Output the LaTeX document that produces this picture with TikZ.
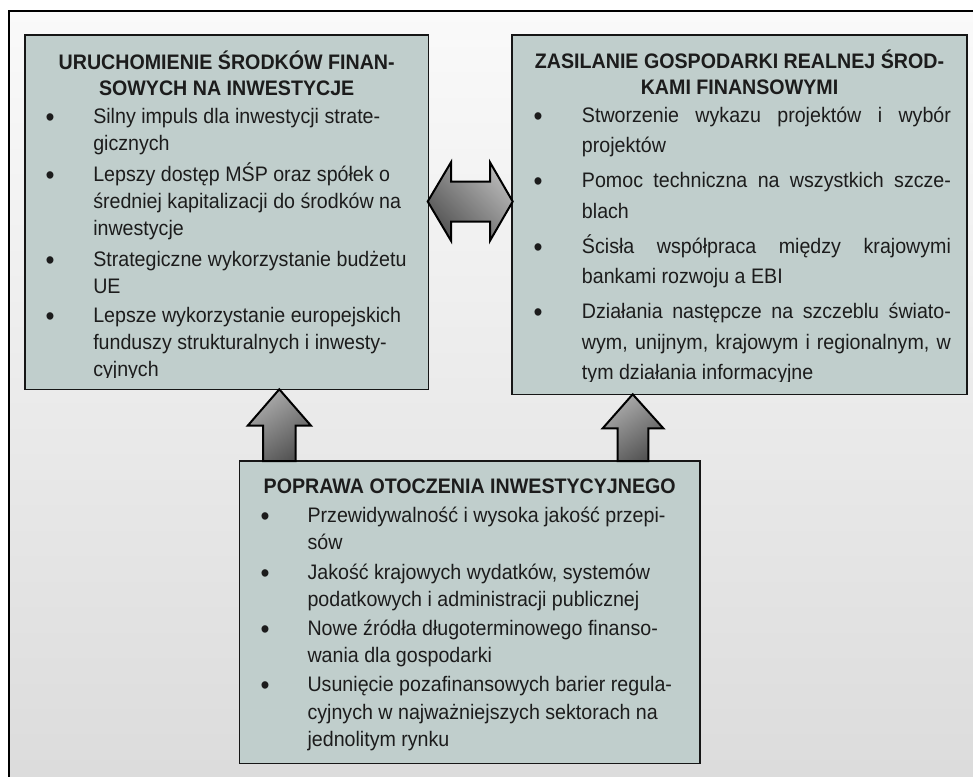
\documentclass[tikz,border=0pt]{standalone}
\usepackage{fontspec}
\setmainfont{Liberation Sans}[FakeStretch=0.935]
\definecolor{boxfill}{RGB}{192,206,204}
\definecolor{txtc}{RGB}{28,28,28}
\definecolor{bordc}{RGB}{22,22,22}
\newcommand{\natsp}{\spaceskip=\fontdimen2\font\relax\xspaceskip=\fontdimen2\font\relax}
\newcommand{\jline}[1]{{\spaceskip=0pt\relax\xspaceskip=0pt\relax\makebox[276.75pt][s]{#1}}}
\begin{document}
\begin{tikzpicture}[x=0.75pt,y=-0.75pt,
  panel/.style={draw=bordc, fill=boxfill, line width=1.1pt, anchor=north west, inner sep=0pt, outer sep=0pt},
  head/.style={anchor=base, inner sep=0pt, text=txtc, align=center, text width=330pt, font=\fontsize{15.75pt}{20pt}\selectfont\bfseries},
  itemL/.style={anchor=base west, inner sep=0pt, text=txtc, align=left, text width=260pt, font=\fontsize{15.75pt}{20.25pt}\selectfont},
  itemR/.style={anchor=base west, inner sep=0pt, text=txtc, align=left, text width=280pt, font=\fontsize{15.75pt}{22.875pt}\selectfont},
  itemB/.style={anchor=base west, inner sep=0pt, text=txtc, align=left, text width=300pt, font=\fontsize{15.75pt}{20.5pt}\selectfont},
  bul/.style={anchor=base, inner sep=0pt, text=txtc, font=\fontsize{20.5pt}{20pt}\selectfont},
  blockarrow/.style={draw=black, line width=1.5pt, line join=miter, shading=axis}
]
\useasboundingbox (0,0) rectangle (973,776);
% background frame
\begin{scope}
  \clip (0,0) rectangle (973,776);
  \shade[top color=white!98!black, bottom color=white!86!black] (9,11) rectangle (1000,790);
  \draw[line width=1.9pt, black] (9,11) rectangle (1000,790);
\end{scope}

% panels
\node[panel, minimum width=302.5pt, minimum height=265.7pt] (L) at (25,35) {};
\node[panel, minimum width=341.25pt, minimum height=269.5pt] (R) at (512,35) {};
\node[panel, minimum width=345.5pt, minimum height=226.7pt] (B) at (239.3,461) {};

% block arrows
\path[blockarrow, top color=white!72!black, bottom color=white!33!black, shading angle=-45]
  (427.7,201.5) -- (451,162.3) -- (451,181.7) -- (490,181.7) -- (490,162.3) -- (512.7,201.5)
  -- (490,240.7) -- (490,221.7) -- (451,221.7) -- (451,240.7) -- cycle;
\path[blockarrow, top color=white!68!black, bottom color=white!33!black, shading angle=35]
  (279.3,389.3) -- (311,425.7) -- (295.5,425.7) -- (295.5,461) -- (263.2,461) -- (263.2,425.7) -- (247.7,425.7) -- cycle;
\path[blockarrow, top color=white!68!black, bottom color=white!33!black, shading angle=35]
  (632.7,394.3) -- (663.3,428.3) -- (648.3,428.3) -- (648.3,461) -- (617.7,461) -- (617.7,428.3) -- (602.7,428.3) -- cycle;

% left panel text
\node[head] (hl) at (226.7,69) {\natsp URUCHOMIENIE ŚRODKÓW FINAN-\\SOWYCH NA INWESTYCJE};
\begin{scope}
  \clip (25,35) rectangle (428.3,377.5);
  \node[bul] (bl1) at (50,126.2) {•};
  \node[itemL] (l1) at (93,123) {\natsp Silny impuls dla inwestycji strate-\\gicznych};
  \node[bul] (bl2) at (50,184.7) {•};
  \node[itemL] (l2) at (93,181.5) {\natsp Lepszy dostęp MŚP oraz spółek o\\średniej kapitalizacji do środków na\\inwestycje};
  \node[bul] (bl3) at (50,269.7) {•};
  \node[itemL] (l3) at (93,266.5) {\natsp Strategiczne wykorzystanie budżetu\\UE};
  \node[bul] (bl4) at (50,325.2) {•};
  \node[itemL] (l4) at (93,322) {\natsp Lepsze wykorzystanie europejskich\\funduszy strukturalnych i inwesty-\\cyjnych};
\end{scope}

% right panel text
\node[head] (hr) at (739.5,68.3) {\natsp ZASILANIE GOSPODARKI REALNEJ ŚROD-\\KAMI FINANSOWYMI};
\begin{scope}
  \clip (512,35) rectangle (967,381);
  \node[bul] (br1) at (538,125.2) {•};
  \node[itemR] (r1) at (581.7,122) {\natsp\jline{Stworzenie wykazu projektów i wybór}\\projektów};
  \node[bul] (br2) at (538,190.7) {•};
  \node[itemR] (r2) at (581.7,187.5) {\natsp\jline{Pomoc techniczna na wszystkich szcze-}\\blach};
  \node[bul] (br3) at (538,256.2) {•};
  \node[itemR] (r3) at (581.7,253) {\natsp\jline{Ścisła współpraca między krajowymi}\\bankami rozwoju a EBI};
  \node[bul] (br4) at (538,321.7) {•};
  \node[itemR] (r4) at (581.7,318.5) {\natsp\jline{Działania następcze na szczeblu świato-}\\\jline{wym, unijnym, krajowym i regionalnym, w}\\tym działania informacyjne};
\end{scope}

% bottom panel text
\node[head] (hb) at (469.7,493.3) {\natsp POPRAWA OTOCZENIA INWESTYCYJNEGO};
\node[bul] (bb1) at (265,525.5) {•};
\node[itemB] (b1) at (307.3,522.3) {\natsp Przewidywalność i wysoka jakość przepi-\\sów};
\node[bul] (bb2) at (265,582.5) {•};
\node[itemB] (b2) at (307.3,579.3) {\natsp Jakość krajowych wydatków, systemów\\podatkowych i administracji publicznej};
\node[bul] (bb3) at (265,638.2) {•};
\node[itemB] (b3) at (307.3,635) {\natsp Nowe źródła długoterminowego finanso-\\wania dla gospodarki};
\node[bul] (bb4) at (265,694.9) {•};
\node[itemB] (b4) at (307.3,691.7) {\natsp Usunięcie pozafinansowych barier regula-\\cyjnych w najważniejszych sektorach na\\jednolitym rynku};
\end{tikzpicture}
\end{document}
